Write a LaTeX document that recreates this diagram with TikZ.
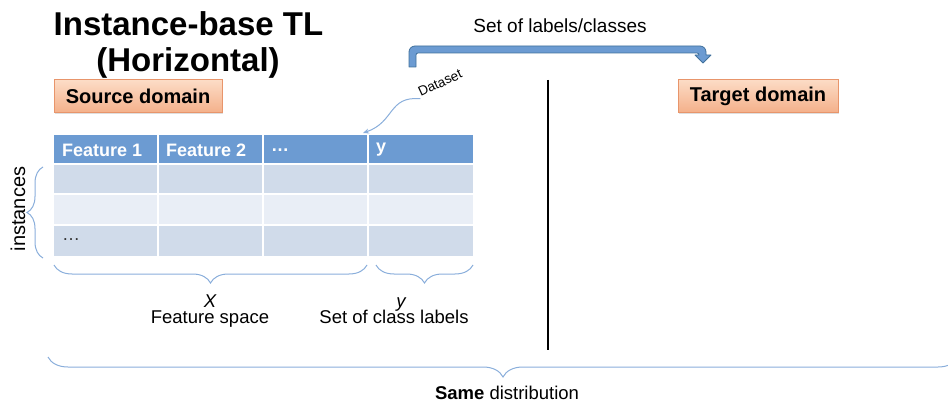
\documentclass[tikz,border=0pt]{standalone}
\usepackage{fontspec}
\setmainfont{Liberation Sans}
\usetikzlibrary{decorations.pathreplacing,shadows,arrows.meta}
\definecolor{hdr}{HTML}{6C9BD2}
\definecolor{rowdark}{HTML}{D0DBEA}
\definecolor{rowlight}{HTML}{E9EEF6}
\definecolor{orgtop}{HTML}{FCDCC6}
\definecolor{orgbot}{HTML}{F4B08A}
\definecolor{orgline}{HTML}{E8956B}
\definecolor{arrfill}{HTML}{6C9BD2}
\definecolor{arrline}{HTML}{41719C}
\definecolor{bracec}{HTML}{8AAEDB}
\begin{document}
\begin{tikzpicture}[x=1pt,y=-1pt,
  domainbox/.style={draw=orgline, line width=1pt, top color=orgtop, bottom color=orgbot,
     minimum height=33pt, inner sep=0pt, font=\fontsize{20}{24}\selectfont\bfseries,
     drop shadow={shadow xshift=1pt, shadow yshift=-1.5pt, opacity=0.25}},
  hdrtext/.style={anchor=west, text=white, font=\fontsize{18}{21}\selectfont\bfseries, inner sep=0pt},
  lbl/.style={font=\fontsize{18.5}{22}\selectfont, inner sep=0pt, anchor=base},
  bracestyle/.style={draw=bracec, line width=1pt, decorate},
  cellline/.style={draw=white, line width=2pt}
]
\useasboundingbox (0,0) rectangle (948,406);
\clip (0,0) rectangle (948,406);

% title
\node[font=\fontsize{33}{36}\selectfont\bfseries, anchor=base, inner sep=0pt] (title1) at (188.5,36) {Instance-base TL};
\node[font=\fontsize{33}{36}\selectfont\bfseries, anchor=base, inner sep=0pt] (title2) at (188,72) {(Horizontal)};

% domain boxes
\node[domainbox, minimum width=168pt] (source) at (138,96.5) {Source domain};
\node[domainbox, minimum width=160pt] (target) at (758,96) {Target domain};

% table
\fill[hdr] (54,135) rectangle (473,164);
\fill[rowdark] (54,164) rectangle (473,194.5);
\fill[rowlight] (54,194.5) rectangle (473,225);
\fill[rowdark] (54,225) rectangle (473,256);
\draw[cellline] (54,164) -- (473,164);
\draw[cellline] (54,194.5) -- (473,194.5);
\draw[cellline] (54,225) -- (473,225);
\foreach \cx in {158,263,368} \draw[cellline] (\cx,135) -- (\cx,256);

\node[hdrtext] (f1) at (62,150) {Feature 1};
\node[hdrtext] (f2) at (166,150) {Feature 2};
\node[hdrtext] (fd) at (271,150) {\ldots};
\node[hdrtext] (fy) at (376,150) {y};
\node[anchor=west, text=black!80, font=\fontsize{18}{21}\selectfont, inner sep=0pt] (rdots) at (62,240) {\ldots};

% instances
\node[font=\fontsize{20}{24}\selectfont, rotate=90, inner sep=0pt] (inst) at (18,209) {instances};
\draw[bracestyle, decoration={brace, amplitude=16pt}] (43,258) -- (43,167);

% bottom braces
\draw[bracestyle, decoration={brace, amplitude=18pt, mirror}] (54,265) -- (367,265);
\draw[bracestyle, decoration={brace, amplitude=18pt, mirror}] (376,265) -- (473,265);
\node[lbl, font=\fontsize{18.5}{22}\selectfont\itshape] (xl) at (210,307) {X};
\node[lbl] (fs) at (210,323) {Feature space};
\node[lbl, font=\fontsize{18.5}{22}\selectfont\itshape] (yl) at (401,307) {y};
\node[lbl] (scl) at (394,323) {Set of class labels};

\draw[bracestyle, decoration={brace, amplitude=20pt, mirror}] (48,357) -- (958,357);
\node[lbl] (same) at (507,399) {\textbf{Same} distribution};

% vertical separator
\coordinate (vtop) at (548,80);
\coordinate (vbot) at (548,350);
\draw[line width=1.8pt] (vtop) -- (vbot);

% set of labels arrow
\node[font=\fontsize{19}{22}\selectfont, inner sep=0pt, anchor=base] (setlab) at (560,33) {Set of labels/classes};
\draw[draw=arrline, fill=arrfill, line width=0.8pt, line join=round]
  (409,67) [rounded corners=6] -- (409,46) -- (706,46) [sharp corners] -- (706,55) -- (711,55) -- (703,63)
  -- (695,55) -- (699,55) [rounded corners=2] -- (699,53) -- (416,53) [sharp corners] -- (416,67) -- cycle;

% dataset annotation
\node[font=\fontsize{13.5}{16}\selectfont, rotate=25, inner sep=1pt] (ds) at (440,83) {Dataset};
\coordinate (dsend) at (363,133);
\draw[draw=bracec, line width=1pt, -{Stealth[length=6pt,width=5pt]}]
  (ds.south west) .. controls (388,96) and (395,122) .. (dsend);
\end{tikzpicture}
\end{document}
